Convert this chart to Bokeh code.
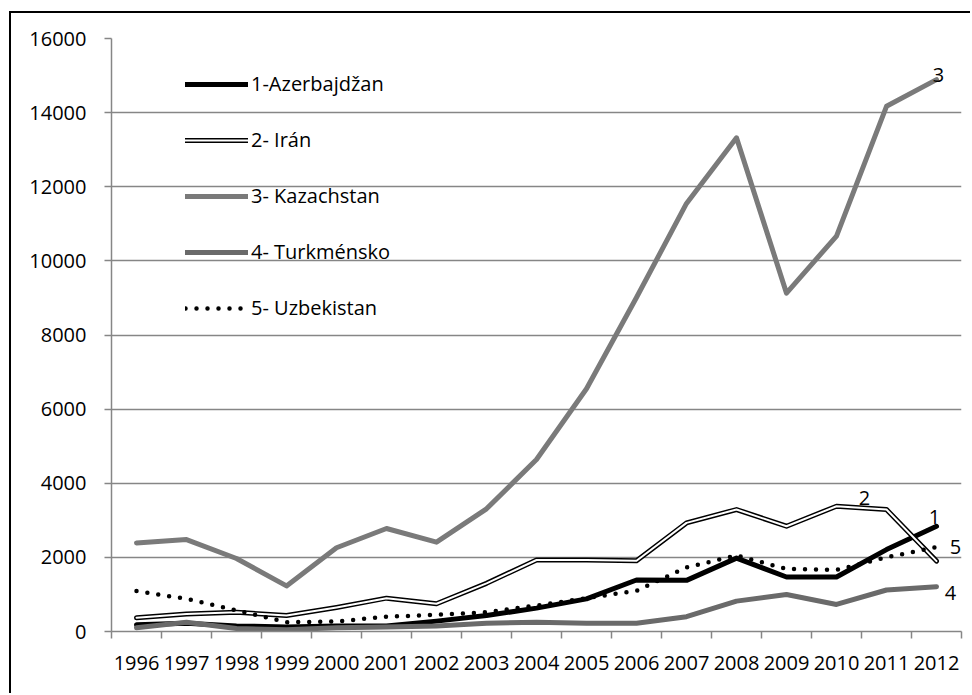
from bokeh.plotting import figure
from bokeh.models import (Range1d, LinearAxis, FixedTicker, Legend, LegendItem, Label)
from bokeh.embed import file_html
from bokeh.resources import INLINE

# ---- data ----
years = ["1996", "1997", "1998", "1999", "2000", "2001", "2002", "2003", "2004",
         "2005", "2006", "2007", "2008", "2009", "2010", "2011", "2012"]
azerbajdzan = [180, 220, 150, 120, 150, 150, 280, 430, 630, 880, 1390, 1380,
               1980, 1470, 1470, 2210, 2840]
iran = [370, 470, 520, 430, 650, 900, 750, 1300, 1930, 1930, 1910, 2930,
        3290, 2840, 3380, 3290, 1900]
kazachstan = [2390, 2480, 1970, 1230, 2260, 2780, 2410, 3310, 4640, 6550, 9010,
              11550, 13320, 9130, 10670, 14170, 14890]
turkmensko = [100, 250, 80, 50, 100, 120, 150, 225, 250, 225, 225, 400, 820,
              1000, 730, 1120, 1210]
uzbekistan = [1090, 880, 570, 250, 270, 400, 450, 520, 700, 900, 1100, 1730,
              2050, 1690, 1660, 2000, 2280]
legend_labels = ["1-Azerbajdžan", "2- Irán", "3- Kazachstan", "4- Turkménsko",
                 "5- Uzbekistan"]
end_labels = ["1", "2", "3", "4", "5"]
y_ticks = [0, 2000, 4000, 6000, 8000, 10000, 12000, 14000, 16000]

FONT = "Open Sans"
GRAY = "#868686"

n = len(years)
xs = list(range(n))  # category positions

p = figure(width=961, height=682,
           x_range=Range1d(-0.5, n - 0.5),
           y_range=Range1d(0, 16000),
           output_backend="svg", toolbar_location=None,
           x_axis_location=None,
           min_border_left=100, min_border_right=11,
           min_border_top=25, min_border_bottom=64)
p.styles = {"border-left": "2px solid black", "border-top": "2px solid black",
            "margin-top": "11px", "margin-left": "9px"}
p.outline_line_color = None
p.background_fill_color = "white"
p.border_fill_color = "white"

# y axis
p.yaxis.ticker = FixedTicker(ticks=y_ticks)
p.yaxis.axis_line_color = GRAY
p.yaxis.axis_line_width = 1.5
p.yaxis.major_tick_line_color = GRAY
p.yaxis.major_tick_line_width = 1.5
p.yaxis.major_tick_out = 7
p.yaxis.major_tick_in = 0
p.yaxis.minor_tick_line_color = None
p.yaxis.major_label_standoff = 18
p.yaxis.major_label_text_font = FONT
p.yaxis.major_label_text_font_size = "20px"
p.yaxis.major_label_text_color = "black"

p.xgrid.visible = False
p.ygrid.ticker = FixedTicker(ticks=y_ticks)
p.ygrid.grid_line_color = GRAY
p.ygrid.grid_line_width = 1.5

# x axis: tick marks at category boundaries + labels at centres
bounds = [i - 0.5 for i in range(n + 1)]
tick_axis = LinearAxis(ticker=FixedTicker(ticks=bounds),
                       major_label_overrides={b: "" for b in bounds},
                       major_label_text_font_size="1px",
                       major_label_standoff=0,
                       major_tick_out=7, major_tick_in=0,
                       minor_tick_line_color=None,
                       axis_line_color=GRAY, axis_line_width=1.5,
                       major_tick_line_color=GRAY, major_tick_line_width=1.5)
p.add_layout(tick_axis, "below")
lab_axis = LinearAxis(ticker=FixedTicker(ticks=xs),
                      major_label_overrides={i: y for i, y in zip(xs, years)},
                      axis_line_color=None, major_tick_line_color=None,
                      minor_tick_line_color=None,
                      major_label_standoff=11,
                      major_label_text_font=FONT,
                      major_label_text_font_size="20px",
                      major_label_text_color="black")
p.add_layout(lab_axis, "below")

# series
r1 = p.line(xs, azerbajdzan, line_color="black", line_width=5,
            line_join="round", line_cap="round")
r2a = p.line(xs, iran, line_color="black", line_width=5,
             line_join="round", line_cap="round")
r2b = p.line(xs, iran, line_color="white", line_width=2,
             line_join="round", line_cap="round")
r3 = p.line(xs, kazachstan, line_color="#7a7a7a", line_width=5,
            line_join="round", line_cap="round")
r4 = p.line(xs, turkmensko, line_color="#6a6a6a", line_width=5,
            line_join="round", line_cap="round")
r5 = p.line(xs, uzbekistan, line_color="black", line_width=4.5,
            line_dash="0 11", line_cap="round", line_join="round")

legend = Legend(items=[
    LegendItem(label=legend_labels[0], renderers=[r1]),
    LegendItem(label=legend_labels[1], renderers=[r2a, r2b]),
    LegendItem(label=legend_labels[2], renderers=[r3]),
    LegendItem(label=legend_labels[3], renderers=[r4]),
    LegendItem(label=legend_labels[4], renderers=[r5]),
], location=(74, 310))
legend.margin = 0
legend.padding = 0
legend.spacing = 29
legend.glyph_width = 63
legend.glyph_height = 20
legend.label_height = 20
legend.label_standoff = 3
legend.label_text_font = FONT
legend.label_text_font_size = "20px"
legend.label_text_color = "black"
legend.background_fill_alpha = 0
legend.border_line_color = None
p.add_layout(legend, "center")

# end labels next to the series' end points
common = dict(text_align="center", text_baseline="middle", text_font=FONT,
              text_font_size="20px", text_color="black")
for series, idx, lab, dx, dy in [
    (azerbajdzan, -1, end_labels[0], -2, 9),
    (iran, -2, end_labels[1], -22, 12),
    (kazachstan, -1, end_labels[2], 2, 5),
    (turkmensko, -1, end_labels[3], 14, -6),
    (uzbekistan, -1, end_labels[4], 19, 0),
]:
    p.add_layout(Label(x=xs[idx], y=series[idx], text=lab, x_offset=dx,
                       y_offset=dy, **common))

open("out.html", "w").write(file_html(p, INLINE))
